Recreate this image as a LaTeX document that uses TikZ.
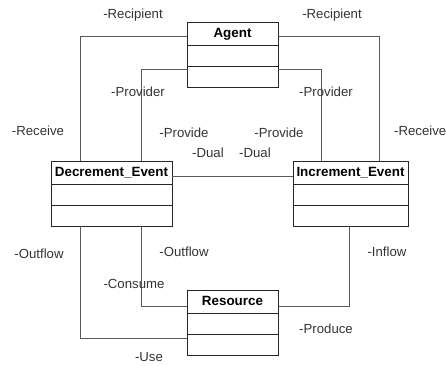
\documentclass[tikz,border=0pt]{standalone}
\usepackage{fontspec}
\setmainfont{Liberation Sans}
\usepackage{tikz}

\begin{document}
\begin{tikzpicture}[
          x=1pt, y=-1pt,
          classbox/.style={draw=black!85, line width=0.9pt, minimum width=#1, inner sep=0pt,
            text height=15pt, text depth=50pt, font=\fontsize{13.4}{15}\selectfont\bfseries,
            path picture={
              \draw[black!85, line width=0.9pt]
                ([yshift=-23pt]path picture bounding box.north west) -- ([yshift=-23pt]path picture bounding box.north east)
                ([yshift=-44pt]path picture bounding box.north west) -- ([yshift=-44pt]path picture bounding box.north east);
            }},
          role/.style={font=\fontsize{13.2}{15}\selectfont, text=black!80, inner sep=0pt},
          assoc/.style={draw=black!65, line width=0.8pt}
        ]
        \useasboundingbox (0,0) rectangle (446,365);
        % classes
        \node[classbox=91pt]  (agent) at (232.5,54.5) {Agent};
        \node[classbox=121pt] (dec)   at (111.5,193.5) {Decrement\_Event};
        \node[classbox=115pt] (inc)   at (350.5,193.5) {Increment\_Event};
        \node[classbox=91pt]  (res)   at (232.5,323) {Resource};
        % associations
        \draw[assoc] ([yshift=-15pt]agent.north west) -| ([xshift=30pt]dec.north west);
        \draw[assoc] ([yshift=-48pt]agent.north west) -| ([xshift=91pt]dec.north west);
        \draw[assoc] ([yshift=-15pt]agent.north east) -| ([xshift=-29pt]inc.north east);
        \draw[assoc] ([yshift=-48pt]agent.north east) -| ([xshift=29pt]inc.north west);
        \draw[assoc] ([yshift=-16pt]dec.north east) -- ([yshift=-16pt]inc.north west);
        \draw[assoc] ([xshift=30pt]dec.south west) |- ([yshift=-48pt]res.north west);
        \draw[assoc] ([xshift=91pt]dec.south west) |- ([yshift=-16pt]res.north west);
        \draw[assoc] ([xshift=57pt]inc.south west) |- ([yshift=-16pt]res.north east);
        % roles
        \node[role] (recl)  at (133,15)  {-Recipient};
        \node[role] (recr)  at (332,15)  {-Recipient};
        \node[role] (provl) at (138,92)  {-Provider};
        \node[role] (provr) at (326,92)  {-Provider};
        \node[role] (rcvl)  at (38,131)  {-Receive};
        \node[role, anchor=west] (rcvr) at (394,131) {-Receive};
        \node[role] (pvdl)  at (184,133) {-Provide};
        \node[role] (pvdr)  at (279,133) {-Provide};
        \node[role] (duall) at (208,153) {-Dual};
        \node[role] (dualr) at (255,153) {-Dual};
        \node[role] (outl)  at (39,254)  {-Outflow};
        \node[role] (outm)  at (184,252) {-Outflow};
        \node[role] (infl)  at (387,252) {-Inflow};
        \node[role] (cons)  at (134,284) {-Consume};
        \node[role] (prod)  at (326,329) {-Produce};
        \node[role] (use)   at (149,357) {-Use};
        \end{tikzpicture}
\end{document}
